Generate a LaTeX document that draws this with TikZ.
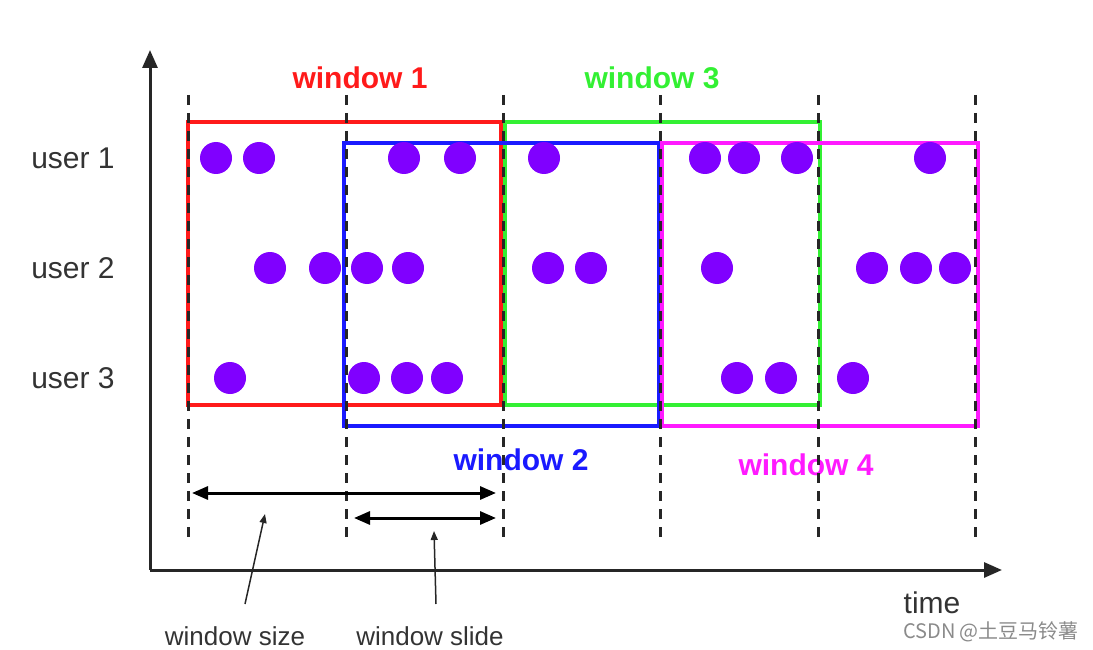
\documentclass[tikz,border=0pt]{standalone}
\usepackage{fontspec}
\setmainfont{Liberation Sans}
\newfontfamily\cjkfont{Noto Sans CJK SC}
\usetikzlibrary{arrows.meta,positioning}
\definecolor{winred}{HTML}{FF1A1A}
\definecolor{wingreen}{HTML}{33F033}
\definecolor{winblue}{HTML}{1A1AFF}
\definecolor{winpink}{HTML}{FF1AFF}
\definecolor{evpurple}{HTML}{8000FF}
\definecolor{markgray}{HTML}{8A8A8A}

\begin{document}
\begin{tikzpicture}[x=1pt,y=-1pt,
      winbox/.style={line width=4.5pt},
      winlabel/.style={font=\fontsize{30}{34}\selectfont\bfseries},
      userlabel/.style={font=\fontsize{30}{34}\selectfont,text=black!80},
      note/.style={font=\fontsize{26}{30}\selectfont,text=black!80},
      event/.style={circle,fill=evpurple,inner sep=0pt,minimum size=32pt},
      tick/.style={line width=3pt,dash pattern=on 10pt off 8pt,black!85},
      axis/.style={line width=3pt,black!85,-{Triangle[length=18pt,width=15pt]}},
      span/.style={line width=3pt,{Triangle[length=16pt,width=13pt]}-{Triangle[length=16pt,width=13pt]}},
      pointer/.style={line width=1.5pt,black!85,-{Triangle[length=9pt,width=7pt]}}
    ]
    \useasboundingbox (0,0) rectangle (1093,650);
    % axes
    \coordinate (origin) at (150,570);
    \coordinate (ytop) at (150,50);
    \coordinate (xend) at (1002,570);
    \draw[axis] (origin) -- (ytop);
    \draw[axis] (origin) -- (xend);
    \node[font=\fontsize{30}{34}\selectfont,text=black!80] (time) at (932,603) {time};
    % rows
    \node[userlabel] (u1) at (73,158) {user 1};
    \node[userlabel] (u2) at (73,268) {user 2};
    \node[userlabel] (u3) at (73,378) {user 3};
    % windows
    \draw[winbox,winred] (188,122) rectangle (501,405);
    \draw[winbox,wingreen] (505,122) rectangle (820,405);
    \draw[winbox,winblue] (344,143) rectangle (659,426);
    \draw[winbox,winpink] (662,143) rectangle (978,426);
    \node[winlabel,text=winred] (w1) at (360,78) {window 1};
    \node[winlabel,text=wingreen] (w3) at (652,78) {window 3};
    \node[winlabel,text=winblue] (w2) at (521,460) {window 2};
    \node[winlabel,text=winpink] (w4) at (806,465) {window 4};
    % events
    \foreach \x [count=\i] in {216,259,404,460,544,705,744,797,930}
      \node[event] (a\i) at (\x,158) {};
    \foreach \x [count=\i] in {270,325,367,408,548,591,717,872,916,955}
      \node[event] (b\i) at (\x,268) {};
    \foreach \x [count=\i] in {230,364,407,447,737,781,853}
      \node[event] (c\i) at (\x,378) {};
    % time marks
    \foreach \x [count=\i from 0] in {188,346,503,660,818,975} {
      \coordinate (t\i) at (\x,95);
      \coordinate (b\i) at (\x,542);
      \draw[tick] (t\i) -- (b\i);
    }
    % size and slide
    \coordinate (sizeL) at (192,493);
    \coordinate (sizeR) at (496,493);
    \coordinate (slideL) at (354,518);
    \coordinate (slideR) at (496,518);
    \draw[span] (sizeL) -- (sizeR);
    \draw[span] (slideL) -- (slideR);
    \node[note] (wsize) at (235,636) {window size};
    \node[note] (wslide) at (430,636) {window slide};
    \coordinate (sizetip) at (265,514);
    \coordinate (slidetip) at (434,531);
    \draw[pointer] (245,604) -- (sizetip);
    \draw[pointer] (436,604) -- (slidetip);
    \node[font=\cjkfont\fontsize{20}{24}\selectfont,text=markgray] (mark) at (991,632) {CSDN @土豆马铃薯};
  \end{tikzpicture}
\end{document}
